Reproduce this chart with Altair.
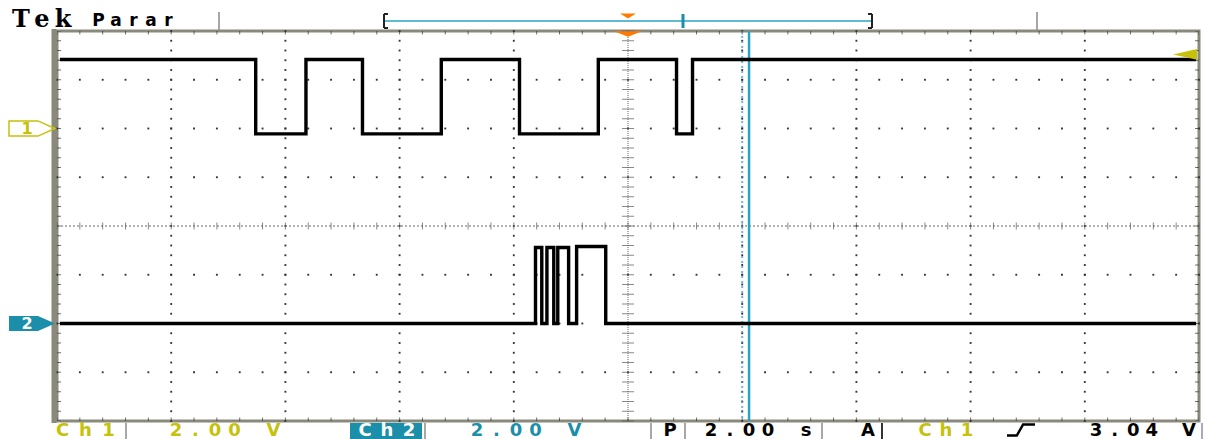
import altair as alt
import numpy as np
import pandas as pd

# ---- acquisition settings -------------------------------------------------
VOLTS_PER_DIV = 2.0          # both channels
SEC_PER_DIV = 2.0
CH1_OFFSET_DIV = 2.0         # ground marker "1"
CH2_OFFSET_DIV = -2.0        # ground marker "2"
TRIGGER_LEVEL_V = 3.04
TRIGGER_TIME_S = 0.0

# ---- waveforms (edge times in s, level held until next edge) --------------
ch1_time = [-9.95, -6.52, -5.64, -4.65, -3.27, -1.90, -0.52, 0.85, 1.13, 9.95]
ch1_volts = [2.83, -0.22, 2.83, -0.22, 2.83, -0.22, 2.83, -0.22, 2.83, 2.83]

ch2_time = [-9.95, -1.62, -1.51, -1.42, -1.30, -1.23, -1.04, -0.90, -0.39, 9.95]
ch2_volts = [0.0, 3.12, 0.0, 3.12, 0.0, 3.12, 0.0, 3.16, 0.0, 0.0]

cursor_dotted_s = [2.00]
cursor_solid_s = [2.12]

# ---- colours ---------------------------------------------------------------
YELLOW = "#c6c10a"
TEAL = "#1b8fa9"
CYAN = "#2aa3c4"
ORANGE = "#ff7a00"
FRAME = "#8a8a7c"

W, H = 1142, 390
XS = alt.Scale(domain=[-10, 10], nice=False, zero=False)
YS = alt.Scale(domain=[-4, 4], nice=False, zero=False)


def X(field="t"):
    return alt.X(f"{field}:Q", scale=XS, axis=None)


def Y(field="div"):
    return alt.Y(f"{field}:Q", scale=YS, axis=None)


def trace(times, volts, offset):
    df = pd.DataFrame({"t": times,
                       "div": offset + np.array(volts) / VOLTS_PER_DIV})
    return alt.Chart(df).mark_line(interpolate="step-after", color="black",
                                   strokeWidth=3.4).encode(x=X(), y=Y())


def spaced(text, x0, step, y, color, size, font="DejaVu Sans", weight="bold"):
    df = pd.DataFrame({"ch": list(text),
                       "px": [x0 + i * step for i in range(len(text))]})
    return alt.Chart(df).mark_text(font=font, fontSize=size, fontWeight=weight,
                                   color=color, align="center",
                                   baseline="alphabetic").encode(
        x=alt.X("px:Q", scale=None), y=alt.value(y), text="ch:N")


def prule(x, x2, y, y2, color, width):
    return alt.Chart(pd.DataFrame({"k": [0]})).mark_rule(
        color=color, strokeWidth=width).encode(
        x=alt.value(x), x2=alt.value(x2), y=alt.value(y), y2=alt.value(y2))


# ---- graticule -------------------------------------------------------------
major_t = [-8, -6, -4, -2, 2, 4, 6, 8]
major_div = [-3, -2, -1, 1, 2, 3]
minor_t = np.round(np.arange(-10, 10.001, SEC_PER_DIV / 5), 2)
minor_div = np.round(np.arange(-4, 4.001, 0.2), 2)

vdots = pd.DataFrame([(t, d) for t in major_t for d in minor_div], columns=["t", "div"])
hdots = pd.DataFrame([(t, d) for t in minor_t for d in major_div], columns=["t", "div"])

dots = (alt.Chart(pd.concat([vdots, hdots]))
        .mark_square(size=3.5, color="#333", opacity=1)
        .encode(x=X(), y=Y()))

center_v = alt.Chart(pd.DataFrame({"t": [0.0]})).mark_rule(
    color="#666", strokeDash=[1, 1], strokeWidth=1).encode(x=X())
center_h = alt.Chart(pd.DataFrame({"div": [0.0]})).mark_rule(
    color="#666", strokeDash=[2, 2], strokeWidth=1).encode(y=Y())

center_v_ticks = alt.Chart(pd.DataFrame({"t": 0.0, "div": minor_div})).mark_tick(
    orient="horizontal", size=12, thickness=1, color="#555").encode(x=X(), y=Y())
center_h_ticks = alt.Chart(pd.DataFrame({"t": minor_t, "div": 0.0})).mark_tick(
    orient="vertical", size=7, thickness=1, color="#555").encode(x=X(), y=Y())

tb = pd.DataFrame([(t, d) for t in minor_t for d in (-4, 4)], columns=["t", "div"])
lr = pd.DataFrame([(t, d) for t in (-10, 10) for d in minor_div], columns=["t", "div"])
edge_ticks_tb = alt.Chart(tb).mark_tick(orient="vertical", size=7, thickness=1,
                                        color="#333", clip=True).encode(x=X(), y=Y())
edge_ticks_lr = alt.Chart(lr).mark_tick(orient="horizontal", size=8, thickness=1,
                                        color="#333", clip=True).encode(x=X(), y=Y())

left_bar = prule(-3, -3, -2, H + 2, FRAME, 5)

# ---- cursors, traces, markers ---------------------------------------------
cur_dot = alt.Chart(pd.DataFrame({"t": cursor_dotted_s})).mark_rule(
    color=CYAN, strokeWidth=2, strokeDash=[2, 3], opacity=0.7).encode(x=X())
cur_solid = alt.Chart(pd.DataFrame({"t": cursor_solid_s})).mark_rule(
    color=CYAN, strokeWidth=2.5).encode(x=X())

ch1 = trace(ch1_time, ch1_volts, CH1_OFFSET_DIV)
ch2 = trace(ch2_time, ch2_volts, CH2_OFFSET_DIV)

trig_pos = alt.Chart(pd.DataFrame({"t": [TRIGGER_TIME_S]})).mark_point(
    shape="M-1,-0.2 L1,-0.2 L0,0.2 Z", size=784, filled=True, color=ORANGE,
    opacity=1).encode(x=X(), y=alt.value(3))

trig_lvl = alt.Chart(pd.DataFrame(
    {"div": [CH1_OFFSET_DIV + TRIGGER_LEVEL_V / VOLTS_PER_DIV]})).mark_point(
    shape="M-1,0 L1,-0.45 L1,0.45 Z", size=576, filled=True, color=YELLOW,
    opacity=1).encode(x=alt.value(W - 14), y=Y())

tag_path = "M-1,-0.33 L0.26,-0.33 L1,0 L0.26,0.33 L-1,0.33 Z"
tag1 = alt.Chart(pd.DataFrame({"div": [CH1_OFFSET_DIV]})).mark_point(
    shape=tag_path, size=2116, filled=False, stroke=YELLOW, strokeWidth=1.5,
    opacity=1).encode(x=alt.value(-25), y=Y())
tag1_txt = alt.Chart(pd.DataFrame({"div": [CH1_OFFSET_DIV]})).mark_text(
    text="1", font="DejaVu Sans", fontWeight="bold", fontSize=16, color=YELLOW,
    baseline="middle").encode(x=alt.value(-30), y=Y())
tag2 = alt.Chart(pd.DataFrame({"div": [CH2_OFFSET_DIV]})).mark_point(
    shape=tag_path, size=2116, filled=True, color=TEAL, opacity=1).encode(
    x=alt.value(-25), y=Y())
tag2_txt = alt.Chart(pd.DataFrame({"div": [CH2_OFFSET_DIV]})).mark_text(
    text="2", font="DejaVu Sans", fontWeight="bold", fontSize=16, color="white",
    baseline="middle").encode(x=alt.value(-30), y=Y())

# ---- header ----------------------------------------------------------------
header = [
    spaced("Tek", -36, 21, -4, "black", 24, font="DejaVu Serif"),
    spaced("Parar", 41.5, 17.5, -5, "black", 17),
    prule(162, 162, -19, -1, "#8a8a8a", 1.5),
    prule(980, 980, -19, -1, "#8a8a8a", 1.5),
    prule(328, 814, -10, -10, CYAN, 1.5),
    prule(327, 327, -17, -3, "#222", 2),
    prule(327, 331, -17, -17, "#222", 2),
    prule(327, 331, -3, -3, "#222", 2),
    prule(815, 815, -17, -3, "#222", 2),
    prule(811, 815, -17, -17, "#222", 2),
    prule(811, 815, -3, -3, "#222", 2),
    prule(626, 626, -17, -3, TEAL, 3),
    alt.Chart(pd.DataFrame({"t": [TRIGGER_TIME_S]})).mark_point(
        shape="M-1,-0.3 L1,-0.3 L0,0.3 Z", size=256, filled=True, color=ORANGE,
        opacity=1).encode(x=X(), y=alt.value(-15)),
]

# ---- status bar ------------------------------------------------------------
SB = 404.5
FS = 18
status = [
    alt.Chart(pd.DataFrame({"k": [0]})).mark_rect(color=TEAL).encode(
        x=alt.value(293), x2=alt.value(365), y=alt.value(392), y2=alt.value(408)),
    spaced("Ch1", 5.5, 23, SB, YELLOW, FS),
    spaced("2.00 V", 119, 19.5, SB, YELLOW, FS),
    spaced("Ch2", 308, 22, SB, "white", FS),
    spaced("2.00 V", 420, 19.5, SB, TEAL, FS),
    spaced("P", 613, 0, SB, "black", FS),
    spaced("2.00 s", 654, 19, SB, "black", FS),
    spaced("A", 811, 0, SB, "black", FS),
    spaced("Ch1", 868, 21, SB, YELLOW, FS),
    spaced("3.04 V", 1039, 18.6, SB, "black", FS),
    alt.Chart(pd.DataFrame({"k": [0]})).mark_point(
        shape="M-1,0.4 L-0.3,0.4 L0.15,-0.4 L1,-0.4", size=784, filled=False,
        stroke="black", strokeWidth=2.5, opacity=1).encode(
        x=alt.value(964), y=alt.value(399)),
]
for sx, col in [(69, "#a8a8a8"), (368, "#a8a8a8"), (594, "#a8a8a8"),
                (628, "#a8a8a8"), (765, "#a8a8a8"), (825, "#333"), (1145, "#a8a8c8")]:
    status.append(prule(sx, sx, 392, 408, col, 2))

layers = ([dots, center_v, center_h, center_v_ticks, center_h_ticks,
           edge_ticks_tb, edge_ticks_lr, left_bar, cur_dot, cur_solid,
           ch1, ch2, trig_pos, trig_lvl, tag1, tag1_txt, tag2, tag2_txt]
          + header + status)

chart = (alt.layer(*layers)
         .properties(width=W, height=H,
                     autosize=alt.AutoSizeParams(type="none"),
                     padding={"left": 57, "top": 31, "right": 16, "bottom": 18},
                     background="white")
         .configure_view(stroke=FRAME, strokeWidth=3))

chart.save("out.html", embed_options={"renderer": "svg", "actions": False})
